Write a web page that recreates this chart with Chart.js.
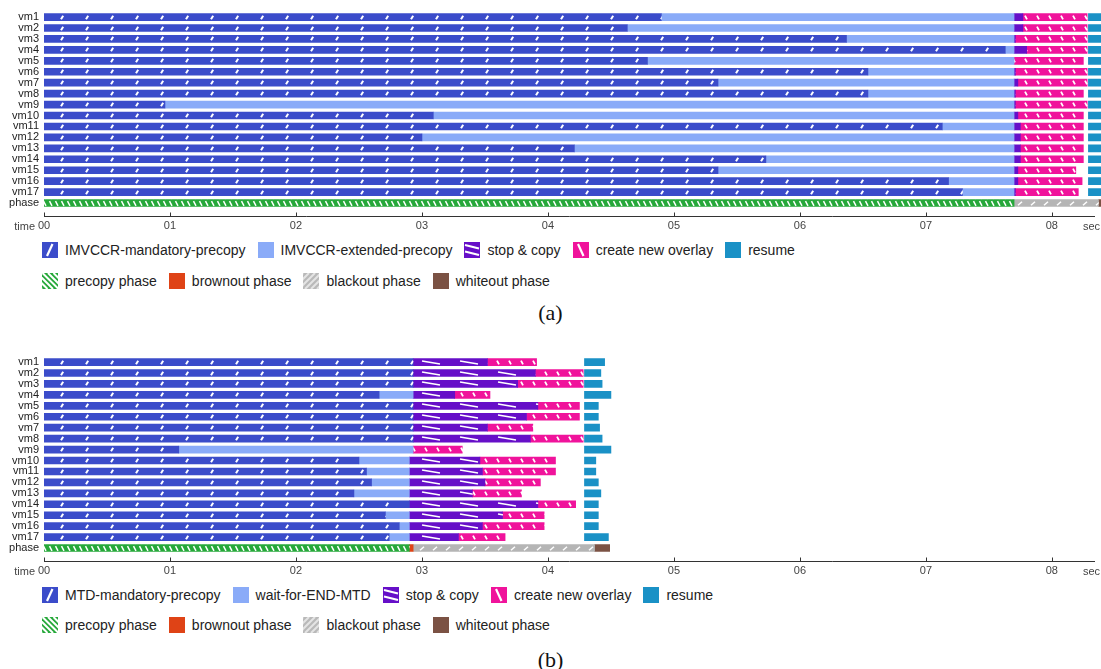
<!DOCTYPE html>
<html>
<head>
<meta charset="utf-8">
<script src="https://cdn.jsdelivr.net/npm/chart.js@4.4.1/dist/chart.umd.min.js"></script>
<style>
  body { margin: 0; background: #fff; width: 1101px; height: 669px; position: relative; overflow: hidden;
         font-family: "Liberation Sans", Arial, sans-serif; }
  canvas.chart { position: absolute; left: 0; }
  .legend { position: absolute; left: 42px; height: 16px; display: flex; align-items: center; font-size: 14px; color: #222; white-space: nowrap; }
  .item { display: flex; align-items: center; margin-right: 12px; }
  .item canvas { margin-right: 7px; }
  .cap { position: absolute; left: 0; width: 1101px; text-align: center; font-family: "Liberation Serif", serif; font-size: 22px; line-height: 26px; color: #111; }
</style>
</head>
<body>
<canvas id="chartA" class="chart" width="1101" height="236" style="top:0"></canvas>
<div class="legend" id="legA1" style="top:242px"></div>
<div class="legend" id="legA2" style="top:273px"></div>
<div class="cap" style="top:300px">(a)</div>

<canvas id="chartB" class="chart" width="1101" height="236" style="top:345px"></canvas>
<div class="legend" id="legB1" style="top:587px"></div>
<div class="legend" id="legB2" style="top:617px"></div>
<div class="cap" style="top:647px">(b)</div>

<script>
const ROWS = ["vm1", "vm2", "vm3", "vm4", "vm5", "vm6", "vm7", "vm8", "vm9", "vm10",
              "vm11", "vm12", "vm13", "vm14", "vm15", "vm16", "vm17", "phase"];
const TICK_LABELS = ["00", "01", "02", "03", "04", "05", "06", "07", "08"];
const X_MAX = 8.39;

// (a) IMVCCR, seconds
const aMandatoryEnd = [4.90, 4.63, 6.37, 7.63, 4.79, 6.54, 5.35, 6.54, 0.96, 3.09, 7.13, 3.00, 4.21, 5.73, 5.35, 7.18, 7.29];
const aStopStart   = [7.70, 7.70, 7.70, 7.70, 7.70, 7.70, 7.70, 7.70, 7.70, 7.70, 7.70, 7.70, 7.70, 7.70, 7.70, 7.70, 7.70];
const aStopEnd     = [7.77, 7.77, 7.71, 7.80, 7.70, 7.71, 7.73, 7.71, 7.71, 7.73, 7.75, 7.75, 7.75, 7.75, 7.73, 7.73, 7.71];
const aOverlayEnd  = [8.28, 8.28, 8.28, 8.28, 8.25, 8.28, 8.28, 8.25, 8.28, 8.25, 8.25, 8.25, 8.25, 8.25, 8.19, 8.24, 8.21];
const aResumeStart = [8.29, 8.29, 8.29, 8.29, 8.29, 8.29, 8.29, 8.29, 8.29, 8.29, 8.29, 8.29, 8.29, 8.29, 8.29, 8.29, 8.29];
const aResumeEnd   = [8.39, 8.39, 8.39, 8.39, 8.39, 8.39, 8.39, 8.39, 8.39, 8.39, 8.39, 8.39, 8.39, 8.39, 8.39, 8.39, 8.39];
// precopy start, precopy end, brownout end, blackout end, whiteout end
const aPhaseEdges  = [0, 7.70, 7.70, 8.37, 8.39];

// (b) MTD, seconds
const bMandatoryEnd = [2.93, 2.93, 2.93, 2.66, 2.93, 2.93, 2.93, 2.93, 1.07, 2.50, 2.56, 2.60, 2.46, 2.90, 2.71, 2.82, 2.74];
const bStopStart   = [2.93, 2.93, 2.93, 2.93, 2.93, 2.93, 2.93, 2.93, 2.93, 2.90, 2.90, 2.90, 2.90, 2.90, 2.90, 2.90, 2.90];
const bStopEnd     = [3.52, 3.90, 3.76, 3.26, 3.92, 3.83, 3.52, 3.86, 2.93, 3.46, 3.48, 3.50, 3.40, 3.92, 3.64, 3.48, 3.29];
const bOverlayEnd  = [3.91, 4.28, 4.28, 3.54, 4.25, 4.25, 3.88, 4.28, 3.32, 4.06, 4.06, 3.94, 3.79, 4.22, 3.97, 3.97, 3.66];
const bResumeStart = [4.29, 4.29, 4.29, 4.29, 4.29, 4.29, 4.29, 4.29, 4.29, 4.29, 4.29, 4.29, 4.29, 4.29, 4.29, 4.29, 4.29];
const bResumeEnd   = [4.45, 4.42, 4.43, 4.50, 4.40, 4.40, 4.41, 4.43, 4.50, 4.38, 4.38, 4.40, 4.42, 4.40, 4.40, 4.40, 4.48];
const bPhaseEdges  = [0, 2.90, 2.93, 4.37, 4.49];

const COLORS = {
  mandatory: "#3b4cca", extended: "#8aabf8", stop: "#660fc8", overlay: "#f0139b", resume: "#1a91c6",
  precopy: "#26a83a", brownout: "#df4316", blackout: "#b3b3b3", whiteout: "#7b5244"
};
const BAR = 7;

// ---- fill patterns ----
function line(g, x1, y1, x2, y2) { g.beginPath(); g.moveTo(x1, y1); g.lineTo(x2, y2); g.stroke(); }
function tile(w, h, bg, lw, draw) {
  const c = document.createElement("canvas");
  c.width = w; c.height = h;
  const g = c.getContext("2d");
  g.fillStyle = bg; g.fillRect(0, 0, w, h);
  g.strokeStyle = "#fff"; g.lineWidth = lw;
  draw(g);
  return c;
}
const TILES = {
  mandatory: tile(25, BAR, COLORS.mandatory, 2, g => line(g, 11, 5.3, 13.2, 1.7)),
  stop: tile(38, BAR, COLORS.stop, 1.5, g => line(g, 4, 2, 22, 5)),
  overlay: tile(12, BAR, COLORS.overlay, 1.8, g => line(g, 5, 1.6, 7, 5.4)),
  precopy: tile(6, BAR, COLORS.precopy, 1.5, g => line(g, 1.5, 1.2, 4, 5.8)),
  blackout: tile(13, BAR, "#b5b5b5", 1.5, g => line(g, 4, 5.3, 8, 1.7))
};

function fillFor(kind) {
  const color = COLORS[kind];
  if (!TILES[kind]) return color;
  return ctx => {
    const ys = ctx.chart.scales && ctx.chart.scales.y;
    if (ctx.type !== "data" || !ys) return color;
    const p = ctx.chart.ctx.createPattern(TILES[kind], "repeat");
    const top = Math.round(ys.getPixelForValue(ctx.dataIndex) - BAR / 2);
    p.setTransform(new DOMMatrix().translate(0, top));
    return p;
  };
}

// ---- data helpers ----
const span = (s, e) => (e > s ? [s, e] : null);
const vmRows = (starts, ends) => ROWS.map((_, i) => (i < ends.length ? span(starts === 0 ? 0 : starts[i], ends[i]) : null));
const phaseRow = (s, e) => ROWS.map((_, i) => (i === ROWS.length - 1 ? span(s, e) : null));

function bar(label, kind, data) {
  return { label, data, backgroundColor: fillFor(kind), borderWidth: 0, grouped: false, barThickness: BAR, borderSkipped: false };
}

function buildDatasets(names, mEnd, sStart, sEnd, oEnd, rStart, rEnd, ph) {
  return [
    bar(names[0], "mandatory", vmRows(0, mEnd)),
    bar(names[1], "extended", vmRows(mEnd, sStart)),
    bar(names[2], "stop", vmRows(sStart, sEnd)),
    bar(names[3], "overlay", vmRows(sEnd, oEnd)),
    bar(names[4], "resume", vmRows(rStart, rEnd)),
    bar("precopy phase", "precopy", phaseRow(ph[0], ph[1])),
    bar("brownout phase", "brownout", phaseRow(ph[1], ph[2])),
    bar("blackout phase", "blackout", phaseRow(ph[2], ph[3])),
    bar("whiteout phase", "whiteout", phaseRow(ph[3], ph[4]))
  ];
}

// axis drawn below the bars with upward ticks, plus "time" / "sec"
const timeAxis = {
  id: "timeAxis",
  afterDraw(chart) {
    const { ctx, chartArea } = chart;
    const x = chart.scales.x;
    const y0 = Math.round(chartArea.bottom + 7.5) + 0.5;
    ctx.save();
    ctx.strokeStyle = "#333";
    ctx.lineWidth = 1;
    ctx.beginPath();
    ctx.moveTo(x.left, y0);
    ctx.lineTo(x.right - 6, y0);
    x.ticks.forEach(t => {
      const px = Math.round(x.getPixelForValue(t.value)) + 0.5;
      ctx.moveTo(px, y0);
      ctx.lineTo(px, y0 - 4);
    });
    ctx.stroke();
    ctx.fillStyle = "#444";
    ctx.font = '11px "Liberation Sans", Arial, sans-serif';
    ctx.textBaseline = "middle";
    ctx.textAlign = "right";
    ctx.fillText("time", x.left - 9, y0 + 10);
    ctx.textAlign = "left";
    ctx.fillText("sec", 1083, y0 + 10);
    ctx.restore();
  }
};

function makeChart(id, datasets) {
  return new Chart(document.getElementById(id), {
    type: "bar",
    data: { labels: ROWS, datasets },
    options: {
      indexAxis: "y",
      responsive: false,
      animation: false,
      layout: { padding: { top: 9.5, left: 0, right: 0, bottom: 0 } },
      plugins: { legend: { display: false }, tooltip: { enabled: false } },
      scales: {
        x: {
          type: "linear", min: 0, max: X_MAX,
          grid: { display: false, drawTicks: false }, border: { display: false },
          ticks: { stepSize: 1, padding: 11, color: "#444", font: { size: 11, family: '"Liberation Sans", Arial' },
                   callback: v => TICK_LABELS[v] },
          afterFit: s => { s.height = 27.5; }
        },
        y: {
          grid: { display: false, drawTicks: false }, border: { display: false },
          ticks: { padding: 5, color: "#222", autoSkip: false, font: { size: 11, family: '"Liberation Sans", Arial' } },
          afterFit: s => { s.width = 44; }
        }
      }
    },
    plugins: [timeAxis]
  });
}

makeChart("chartA", buildDatasets(
  ["IMVCCR-mandatory-precopy", "IMVCCR-extended-precopy", "stop & copy", "create new overlay", "resume"],
  aMandatoryEnd, aStopStart, aStopEnd, aOverlayEnd, aResumeStart, aResumeEnd, aPhaseEdges));

makeChart("chartB", buildDatasets(
  ["MTD-mandatory-precopy", "wait-for-END-MTD", "stop & copy", "create new overlay", "resume"],
  bMandatoryEnd, bStopStart, bStopEnd, bOverlayEnd, bResumeStart, bResumeEnd, bPhaseEdges));

// ---- legends ----
function icon(kind) {
  const c = document.createElement("canvas");
  c.width = 16; c.height = 16;
  const g = c.getContext("2d");
  g.fillStyle = kind === "blackout" ? "#b9b9b9" : COLORS[kind];
  g.fillRect(0, 0, 16, 16);
  g.strokeStyle = "#fff";
  g.lineWidth = 2.2;
  if (kind === "mandatory") line(g, 5, 14, 10.5, 2);
  if (kind === "overlay") line(g, 5, 2, 10.5, 14);
  if (kind === "stop") { g.lineWidth = 2; line(g, 1, 3, 15, 6.5); line(g, 1, 9.5, 15, 13); }
  if (kind === "precopy") { g.lineWidth = 2; for (let k = -16; k < 20; k += 5.5) line(g, k, 0, k + 16, 16); }
  if (kind === "blackout") { g.strokeStyle = "#e4e4e4"; g.lineWidth = 2; for (let k = -16; k < 20; k += 6) line(g, k, 16, k + 16, 0); }
  return c;
}
function legend(id, items) {
  const el = document.getElementById(id);
  items.forEach(([kind, text]) => {
    const it = document.createElement("div");
    it.className = "item";
    it.appendChild(icon(kind));
    const s = document.createElement("span");
    s.textContent = text;
    it.appendChild(s);
    el.appendChild(it);
  });
}
const PHASE_ITEMS = [["precopy", "precopy phase"], ["brownout", "brownout phase"], ["blackout", "blackout phase"], ["whiteout", "whiteout phase"]];
legend("legA1", [["mandatory", "IMVCCR-mandatory-precopy"], ["extended", "IMVCCR-extended-precopy"], ["stop", "stop & copy"], ["overlay", "create new overlay"], ["resume", "resume"]]);
legend("legA2", PHASE_ITEMS);
legend("legB1", [["mandatory", "MTD-mandatory-precopy"], ["extended", "wait-for-END-MTD"], ["stop", "stop & copy"], ["overlay", "create new overlay"], ["resume", "resume"]]);
legend("legB2", PHASE_ITEMS);
</script>
</body>
</html>
